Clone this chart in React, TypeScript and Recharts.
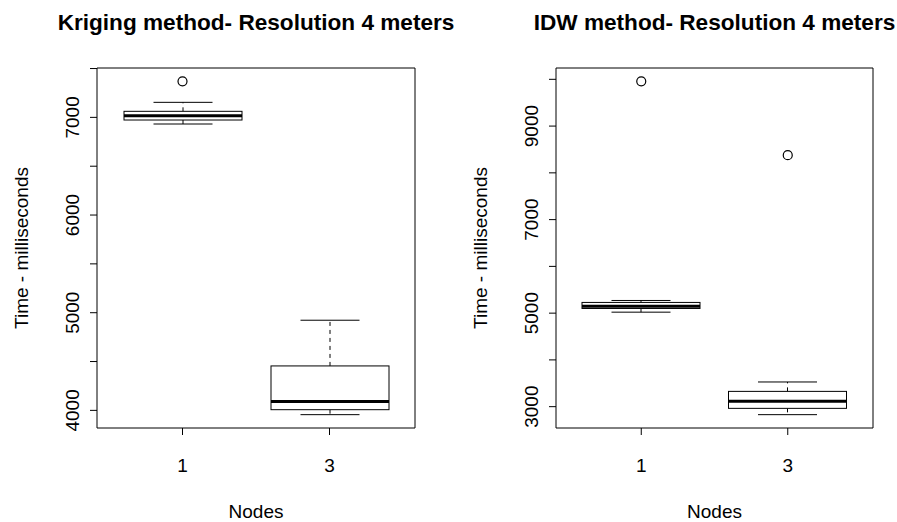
import { Bar, ComposedChart, Scatter, XAxis, YAxis } from "recharts";

const FONT = "'Liberation Sans', Arial, Helvetica, sans-serif";

const nodes = ["1", "3"];

// Kriging: five-number summaries
const krigingLower = [6932, 3956];
const krigingQ1 = [6973, 4007];
const krigingMedian = [7017, 4092];
const krigingQ3 = [7062, 4455];
const krigingUpper = [7154, 4923];
const krigingOutliers = [[7369], []];
const krigingTicks = [4000, 4500, 5000, 5500, 6000, 6500, 7000, 7500];
const krigingTickLabels = [4000, 5000, 6000, 7000];

// IDW
const idwLower = [5021, 2829];
const idwQ1 = [5100, 2964];
const idwMedian = [5150, 3118];
const idwQ3 = [5229, 3327];
const idwUpper = [5271, 3528];
const idwOutliers = [[9957], [8378]];
const idwTicks = [3000, 4000, 5000, 6000, 7000, 8000, 9000, 10000];
const idwTickLabels = [3000, 5000, 7000, 9000];

type Row = { node: string; lo: number; q1: number; med: number; q3: number; hi: number };

function buildRows(lo: number[], q1: number[], med: number[], q3: number[], hi: number[]): Row[] {
  return nodes.map((node, i) => ({ node, lo: lo[i], q1: q1[i], med: med[i], q3: q3[i], hi: hi[i] }));
}

// R-style range: data extent plus 4% on each side
function rDomain(rows: Row[], outliers: number[][]): [number, number] {
  const all = rows.flatMap((r) => [r.lo, r.hi]).concat(outliers.flat());
  const min = Math.min(...all);
  const max = Math.max(...all);
  const pad = (max - min) * 0.04;
  return [min - pad, max + pad];
}

function BoxShape(props: any) {
  const { x, y, width, height, payload } = props;
  const top = Math.min(y, y + height);
  const bottom = Math.max(y, y + height);
  const { lo, q1, med, q3, hi } = payload as Row;
  const yOf = (v: number) => (hi === lo ? top : bottom - ((v - lo) / (hi - lo)) * (bottom - top));
  const cx = x + width / 2;
  const cap = width / 4;
  return (
    <g stroke="#000" fill="none" strokeWidth={1}>
      <line x1={cx} x2={cx} y1={yOf(q3)} y2={yOf(hi)} strokeDasharray="4 4" />
      <line x1={cx} x2={cx} y1={yOf(q1)} y2={yOf(lo)} strokeDasharray="4 4" />
      <line x1={cx - cap} x2={cx + cap} y1={yOf(hi)} y2={yOf(hi)} />
      <line x1={cx - cap} x2={cx + cap} y1={yOf(lo)} y2={yOf(lo)} />
      <rect x={x} y={yOf(q3)} width={width} height={yOf(q1) - yOf(q3)} fill="#fff" />
      <line x1={x} x2={x + width} y1={yOf(med)} y2={yOf(med)} strokeWidth={3} />
    </g>
  );
}

function OutlierShape(props: any) {
  return <circle cx={props.cx} cy={props.cy} r={4.5} stroke="#000" strokeWidth={1.2} fill="none" />;
}

function YTitle(props: any) {
  const { x, y, width, height } = props.viewBox;
  const cx = x + width - 76;
  const cy = y + height / 2;
  return (
    <text x={cx} y={cy} transform={`rotate(-90 ${cx} ${cy})`} textAnchor="middle" dominantBaseline="central"
      fontFamily={FONT} fontSize={19} fill="#000">
      Time - milliseconds
    </text>
  );
}

function XTitle(props: any) {
  const { x, y, width } = props.viewBox;
  return (
    <text x={x + width / 2} y={y + 90} textAnchor="middle" fontFamily={FONT} fontSize={19} fill="#000">
      Nodes
    </text>
  );
}

function MainTitle(props: any) {
  const { x, y, height, width } = props.viewBox;
  return (
    <text x={x + width / 2} y={y + height - 38} textAnchor="middle" fontFamily={FONT} fontSize={22.6}
      fontWeight="bold" fill="#000">
      {props.text}
    </text>
  );
}

function Panel({ title, rows, outliers, ticks, tickLabels, left, width, yWidth, marginRight }: {
  title: string; rows: Row[]; outliers: number[][]; ticks: number[]; tickLabels: number[];
  left: number; width: number; yWidth: number; marginRight: number;
}) {
  const domain = rDomain(rows, outliers);
  const points = nodes.flatMap((node, i) => outliers[i].map((v) => ({ node, v })));
  const yTick = (p: any) => {
    const v = p.payload.value;
    if (!tickLabels.includes(v)) return <g />;
    return (
      <text x={p.x} y={p.y} transform={`rotate(-90 ${p.x} ${p.y})`} textAnchor="middle" dominantBaseline="central"
        fontFamily={FONT} fontSize={19} fill="#000">
        {v}
      </text>
    );
  };
  return (
    <div style={{ position: "absolute", left, top: 0 }}>
      <ComposedChart width={width} height={522} data={rows}
        margin={{ top: 8, right: marginRight - 10, bottom: 0, left: 0 }}>
        <XAxis dataKey="node" type="category" allowDuplicatedCategory={false} padding={{ left: 12, right: 12 }}
          height={94} tickSize={7} tickMargin={24} interval={0}
          tick={{ fontSize: 19, fill: "#000", fontFamily: FONT }}
          axisLine={{ stroke: "#000" }} tickLine={{ stroke: "#000" }} label={<XTitle />} />
        <XAxis xAxisId="t" orientation="top" dataKey="node" type="category" allowDuplicatedCategory={false}
          height={60} tick={false} tickLine={false} axisLine={{ stroke: "#000" }} label={<MainTitle text={title} />} />
        <YAxis yAxisId="v" type="number" domain={domain} ticks={ticks} interval={0} width={yWidth}
          tickSize={7} tickMargin={17.5} tick={yTick} axisLine={{ stroke: "#000" }} tickLine={{ stroke: "#000" }}
          label={<YTitle />} />
        <YAxis yAxisId="f" orientation="right" type="number" domain={domain} width={10} tick={false} tickLine={false}
          axisLine={{ stroke: "#000" }} />
        <Bar yAxisId="v" dataKey={(d: Row) => [d.lo, d.hi]} barSize={118} shape={BoxShape} isAnimationActive={false} />
        <Scatter yAxisId="v" data={points} dataKey="v" shape={OutlierShape} isAnimationActive={false} />
        <Scatter xAxisId="t" yAxisId="f" data={[]} dataKey="v" isAnimationActive={false} />
      </ComposedChart>
    </div>
  );
}

export default function App() {
  const kriging = buildRows(krigingLower, krigingQ1, krigingMedian, krigingQ3, krigingUpper);
  const idw = buildRows(idwLower, idwQ1, idwMedian, idwQ3, idwUpper);
  return (
    <div style={{ position: "absolute", left: 0, top: 0, width: 897, height: 522, background: "#fff", overflow: "hidden" }}>
      <Panel title="Kriging method- Resolution 4 meters" rows={kriging} outliers={krigingOutliers}
        ticks={krigingTicks} tickLabels={krigingTickLabels} left={0} width={470} yWidth={97} marginRight={55} />
      <Panel title="IDW method- Resolution 4 meters" rows={idw} outliers={idwOutliers}
        ticks={idwTicks} tickLabels={idwTickLabels} left={448} width={449} yWidth={108} marginRight={24} />
    </div>
  );
}
